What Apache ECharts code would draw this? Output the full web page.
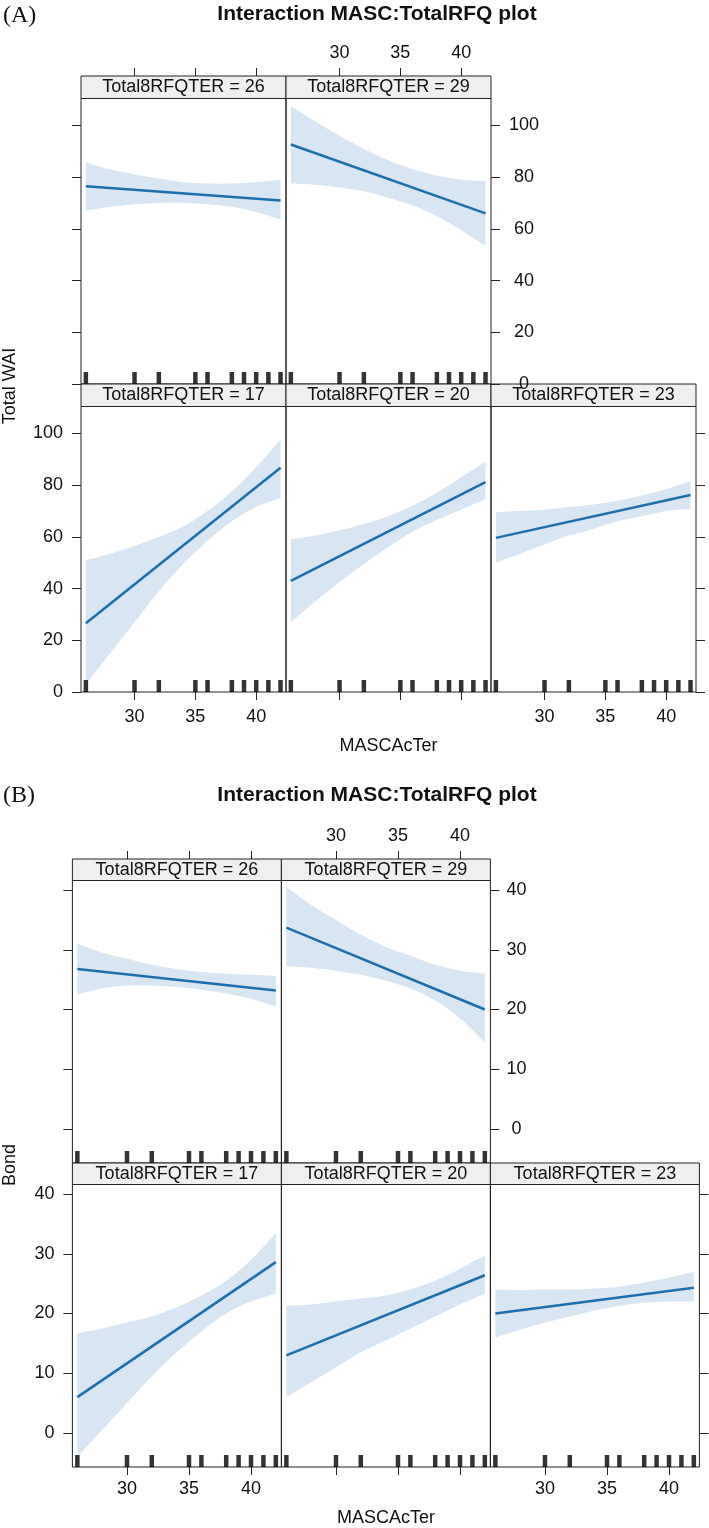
<!DOCTYPE html>
<html>
<head>
<meta charset="utf-8">
<script src="https://cdn.jsdelivr.net/npm/echarts@6/dist/echarts.min.js"></script>
<style>
  html, body { margin: 0; padding: 0; background: #fff; }
  #chart { width: 709px; height: 1528px; }
</style>
</head>
<body>
<div id="chart"></div>
<script>
var bandX = [26, 28, 30, 32, 34, 36, 38, 40, 42];
// fitted line end points
var fitX = [26, 42];
// rug of observed MASCAcTer values
var rugX = [26, 30, 32, 35, 36, 38, 39, 40, 41, 42];
var xTicks = [30, 35, 40];

// (A) Total WAI, one set per Total8RFQTER level
var waiTicks = [0, 20, 40, 60, 80, 100];
var wai26Fit = [76.5, 71.0];
var wai26Lo = [67, 68.5, 69.5, 70, 70, 69.5, 68.5, 66.5, 63.5];
var wai26Hi = [85.7, 83, 81, 79.5, 78, 77.5, 77.5, 78, 79];
var wai29Fit = [92.6, 66.0];
var wai29Lo = [77.5, 77, 76, 74.5, 72, 69, 65, 59.5, 53.5];
var wai29Hi = [107.5, 101.5, 96, 91, 86.5, 83, 80.5, 79, 78.5];
var wai17Fit = [26.6, 86.7];
var wai17Lo = [3, 15, 27, 39, 49.5, 58.5, 66, 71.5, 75];
var wai17Hi = [51, 53.5, 56.5, 60, 64, 70, 77.5, 87, 97.5];
var wai20Fit = [43.0, 81.2];
var wai20Lo = [27, 35, 42.5, 49.5, 56, 62, 66.5, 70.5, 74.5];
var wai20Hi = [59, 60.5, 62.5, 65, 68, 72, 77, 83, 89];
var wai23Fit = [59.6, 76.2];
var wai23Lo = [50, 53.5, 57, 60.5, 63, 66, 68, 70, 71];
var wai23Hi = [69.5, 70, 70.5, 71.5, 72.5, 74, 76, 78.5, 81.5];

// (B) Bond
var bondTicks = [0, 10, 20, 30, 40];
var bond26Fit = [26.8, 23.2];
var bond26Lo = [22.5, 23.5, 24, 24, 23.8, 23.3, 22.7, 21.8, 20.5];
var bond26Hi = [31, 29.5, 28.5, 27.5, 26.8, 26.3, 26, 25.8, 25.6];
var bond29Fit = [33.7, 20.0];
var bond29Lo = [27.2, 27, 26.5, 25.8, 24.8, 23.5, 21.5, 18.5, 14.5];
var bond29Hi = [40.5, 37.5, 35, 32.5, 30.5, 29, 27.5, 26.5, 26];
var bond17Fit = [6.0, 28.6];
var bond17Lo = [-4, 0.5, 5, 9.5, 13.5, 17, 20, 22, 23.3];
var bond17Hi = [16.7, 17.5, 18.5, 19.5, 21, 23, 25.5, 29, 33.5];
var bond20Fit = [13.0, 26.4];
var bond20Lo = [6, 8.5, 11, 13.5, 15.5, 17.5, 19.5, 21.5, 23.3];
var bond20Hi = [21.3, 21.5, 22, 22.5, 23, 24, 25.5, 27.5, 29.7];
var bond23Fit = [20.0, 24.3];
var bond23Lo = [16, 17.3, 18.5, 19.5, 20.5, 21.3, 21.8, 22, 22];
var bond23Hi = [24, 23.9, 24, 24, 24.2, 24.5, 25.2, 26, 27];

var FONT = '"Liberation Sans", Arial, Helvetica, sans-serif';
var LINE = '#1b6fad';
var BAND = '#d7e6f2';
var INK = '#222';

var figures = [
  {
    tag: '(A)', tagY: 17, titleY: 14, yName: 'Total WAI', xNameY: 746,
    left: 81, colW: 205, top: 76, stripH: 22.5, plotH: 285.5,
    ymin: 0, ymax: 110.4, yTicks: waiTicks, rightMargin: 33, xMargin: 16,
    panels: [
      { row: 0, col: 0, level: 26, fit: wai26Fit, lo: wai26Lo, hi: wai26Hi },
      { row: 0, col: 1, level: 29, fit: wai29Fit, lo: wai29Lo, hi: wai29Hi },
      { row: 1, col: 0, level: 17, fit: wai17Fit, lo: wai17Lo, hi: wai17Hi },
      { row: 1, col: 1, level: 20, fit: wai20Fit, lo: wai20Lo, hi: wai20Hi },
      { row: 1, col: 2, level: 23, fit: wai23Fit, lo: wai23Lo, hi: wai23Hi }
    ]
  },
  {
    tag: '(B)', tagY: 797, titleY: 795, yName: 'Bond', xNameY: 1518,
    left: 72.4, colW: 209, top: 859, stripH: 21.5, plotH: 282.5,
    ymin: -5.7, ymax: 41.6, yTicks: bondTicks, rightMargin: 26, xMargin: 13,
    panels: [
      { row: 0, col: 0, level: 26, fit: bond26Fit, lo: bond26Lo, hi: bond26Hi },
      { row: 0, col: 1, level: 29, fit: bond29Fit, lo: bond29Lo, hi: bond29Hi },
      { row: 1, col: 0, level: 17, fit: bond17Fit, lo: bond17Lo, hi: bond17Hi },
      { row: 1, col: 1, level: 20, fit: bond20Fit, lo: bond20Lo, hi: bond20Hi },
      { row: 1, col: 2, level: 23, fit: bond23Fit, lo: bond23Lo, hi: bond23Hi }
    ]
  }
];

function pairs(xs, ys) {
  return xs.map(function (x, i) { return [x, ys[i]]; });
}

// smooth curve through pixel points (catmull-rom as cubic beziers)
function curveThrough(pts) {
  var d = '';
  for (var k = 0; k < pts.length - 1; k++) {
    var p0 = pts[Math.max(k - 1, 0)], p1 = pts[k], p2 = pts[k + 1];
    var p3 = pts[Math.min(k + 2, pts.length - 1)];
    var c1 = [p1[0] + (p2[0] - p0[0]) / 6, p1[1] + (p2[1] - p0[1]) / 6];
    var c2 = [p2[0] - (p3[0] - p1[0]) / 6, p2[1] - (p3[1] - p1[1]) / 6];
    d += ' C' + c1[0] + ' ' + c1[1] + ' ' + c2[0] + ' ' + c2[1] + ' ' + p2[0] + ' ' + p2[1];
  }
  return d;
}

function bandRenderer(rows) {
  return function (params, api) {
    if (params.dataIndex !== 0) return;
    var upper = rows.map(function (r) { return api.coord([r[0], r[2]]); });
    var lower = rows.map(function (r) { return api.coord([r[0], r[1]]); }).reverse();
    var d = 'M' + upper[0][0] + ' ' + upper[0][1] + curveThrough(upper) +
            ' L' + lower[0][0] + ' ' + lower[0][1] + curveThrough(lower) + ' Z';
    return { type: 'path', shape: { pathData: d }, style: { fill: BAND } };
  };
}

var grids = [], xAxes = [], yAxes = [], series = [], graphics = [];

figures.forEach(function (fig) {
  var plotRight = fig.left + 3 * fig.colW;

  graphics.push({
    type: 'text', left: 3, top: fig.tagY - 13,
    style: { text: fig.tag, font: '24px "Liberation Serif", "Times New Roman", serif', fill: '#111' }
  });
  graphics.push({
    type: 'text', x: 377, y: fig.titleY,
    style: { text: 'Interaction MASC:TotalRFQ plot', font: 'bold 21px ' + FONT, fill: '#111',
             align: 'center', verticalAlign: 'middle' }
  });
  graphics.push({
    type: 'text', x: (fig.left + plotRight) / 2, y: fig.xNameY,
    style: { text: 'MASCAcTer', font: '18px ' + FONT, fill: '#111', align: 'center', verticalAlign: 'middle' }
  });
  graphics.push({
    type: 'text', x: 10, y: fig.top + fig.stripH + fig.plotH + 2,
    rotation: Math.PI / 2,
    style: { text: fig.yName, font: '18px ' + FONT, fill: '#111', align: 'center', verticalAlign: 'middle' }
  });

  fig.panels.forEach(function (p) {
    var i = grids.length;
    var gx = fig.left + p.col * fig.colW;
    var gy = fig.top + fig.stripH + p.row * (fig.stripH + fig.plotH);
    var topRow = p.row === 0;

    grids.push({
      left: gx, top: gy, width: fig.colW, height: fig.plotH,
      show: true, borderColor: INK, borderWidth: 1, backgroundColor: 'transparent',
      containLabel: false, outerBoundsMode: 'none'
    });

    var showXLabel = topRow ? p.col === 1 : p.col !== 1;
    xAxes.push({
      gridIndex: i, type: 'value', min: 25.6, max: 42.45,
      position: topRow ? 'top' : 'bottom',
      offset: topRow ? fig.stripH : 0,
      z: 20,
      axisLine: { show: false, onZero: false },
      splitLine: { show: false },
      axisTick: { show: true, length: 8, customValues: xTicks, lineStyle: { color: INK, width: 1 } },
      axisLabel: { show: showXLabel, customValues: xTicks, margin: topRow ? 14 : fig.xMargin,
                   fontSize: 18, fontFamily: FONT, color: '#111' }
    });

    var yPos = p.col === 0 ? 'left' : 'right';
    var yShow = !(p.row === 1 && p.col === 1);
    var yLabel = (topRow && p.col === 1) || (!topRow && p.col === 0);
    yAxes.push({
      gridIndex: i, type: 'value', min: fig.ymin, max: fig.ymax,
      show: yShow, position: yPos, z: 20,
      axisLine: { show: false, onZero: false },
      splitLine: { show: false },
      axisTick: { show: true, length: 9, customValues: fig.yTicks, lineStyle: { color: INK, width: 1 } },
      axisLabel: {
        show: yLabel, customValues: fig.yTicks,
        margin: yPos === 'right' ? fig.rightMargin : 18,
        align: yPos === 'right' ? 'center' : 'right',
        fontSize: 18, fontFamily: FONT, color: '#111'
      }
    });

    var rows = bandX.map(function (x, k) { return [x, p.lo[k], p.hi[k]]; });
    series.push({
      type: 'custom', xAxisIndex: i, yAxisIndex: i, silent: true, z: 1,
      data: rows, encode: { x: 0, y: [1, 2] },
      renderItem: bandRenderer(rows)
    });
    series.push({
      type: 'line', xAxisIndex: i, yAxisIndex: i, data: pairs(fitX, p.fit),
      symbol: 'none', silent: true, lineStyle: { color: LINE, width: 2.5 }, z: 3
    });
    series.push({
      type: 'scatter', xAxisIndex: i, yAxisIndex: i,
      data: rugX.map(function (x) { return [x, fig.ymin]; }),
      symbol: 'rect', symbolSize: [4.5, 12], symbolOffset: [0, -6],
      itemStyle: { color: '#000' }, clip: false, silent: true, z: 4
    });

    // strip above the panel
    graphics.push({
      type: 'rect', z: 10,
      shape: { x: gx, y: gy - fig.stripH, width: fig.colW, height: fig.stripH },
      style: { fill: '#efefef', stroke: INK, lineWidth: 1 }
    });
    graphics.push({
      type: 'text', z: 11, x: gx + fig.colW / 2, y: gy - fig.stripH / 2,
      style: { text: 'Total8RFQTER = ' + p.level, font: '18px ' + FONT, fill: '#111',
               align: 'center', verticalAlign: 'middle' }
    });
  });
});

var chart = echarts.init(document.getElementById('chart'), null, { renderer: 'canvas' });
chart.setOption({
  animation: false,
  backgroundColor: '#fff',
  grid: grids,
  xAxis: xAxes,
  yAxis: yAxes,
  series: series,
  graphic: graphics
});
</script>
</body>
</html>
